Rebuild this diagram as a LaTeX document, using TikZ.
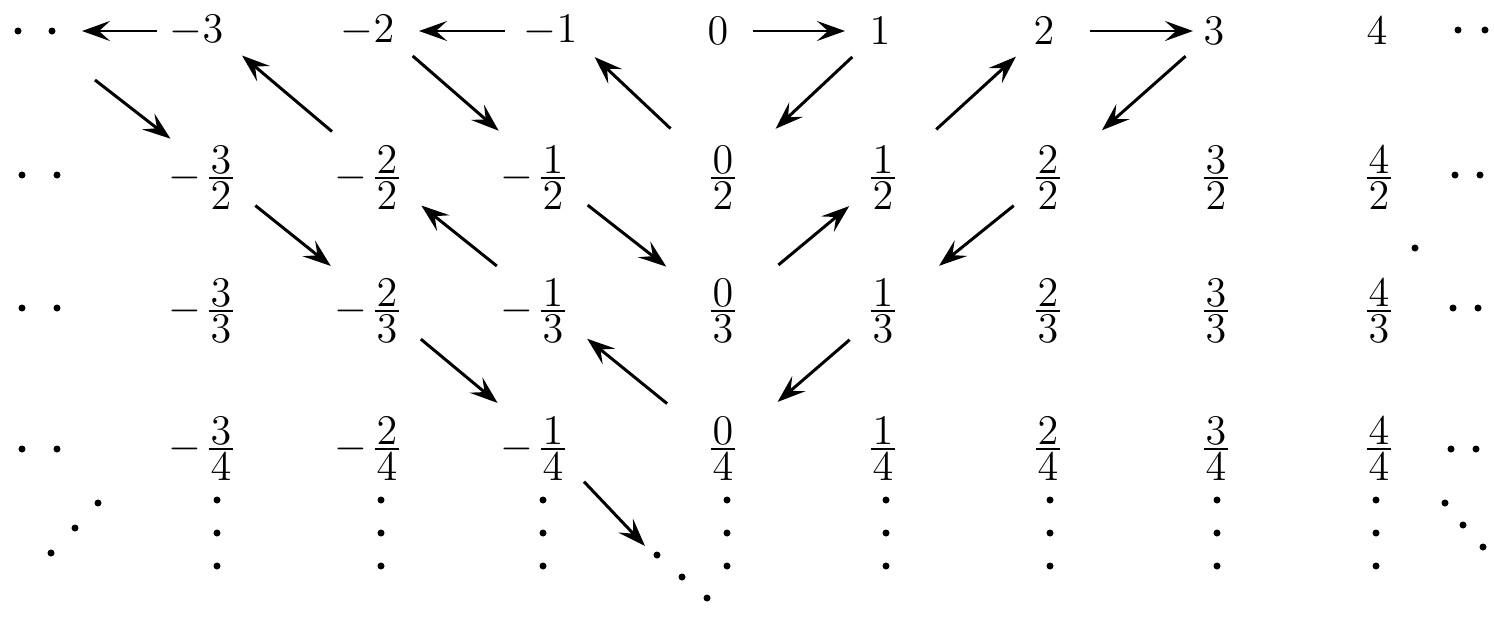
\documentclass[tikz,border=0pt]{standalone}
\usetikzlibrary{arrows.meta}
\newcommand\fr[2]{\ensuremath{\vcenter{\hbox{\kern0.6pt$#1$\kern0.6pt}\kern1.1pt\hrule\kern1.1pt\hbox{\kern0.6pt$#2$\kern0.6pt}}}}
\tikzset{
  every picture/.style={line width=0.85pt},
  num/.style={inner sep=1pt, font=\large},
  arr/.style={-{Stealth[length=2.8mm, width=2mm, inset=1.1mm]}},
  downarr/.style={arr, shorten <=0.44cm, shorten >=0.72cm},
  uparr/.style={arr, shorten <=0.72cm, shorten >=0.44cm},
  sidearr/.style={arr, line width=0.7pt, shorten <=0.35cm, shorten >=0.35cm},
  spot/.style={radius=0.035cm},
}
\begin{document}
\begin{tikzpicture}[x=0.01cm, y=-0.01cm]
  \useasboundingbox (0,0) rectangle (1494,627);

  % whole numbers
  \foreach \k/\x in {-3/213,-2/384,-1/567,0/718,1/880,2/1044,3/1214,4/1377} {
    \pgfmathtruncatemacro\a{abs(\k)}
    \node[num] (n\k) at (\x,31) {\ifnum\k<0 \llap{$-$}\fi$\a$};
  }
  % fractions k/d
  \foreach \d/\y in {2/178,3/311,4/449}
    \foreach \k/\x in {-3/221,-2/387,-1/553,0/723,1/883,2/1048,3/1216,4/1379} {
      \pgfmathtruncatemacro\a{abs(\k)}
      \node[num] (r\k-\d) at (\x,\y) {\ifnum\k<0 \llap{$-$\kern2pt}\fi\fr{\a}{\d}};
    }

  % dots
  \foreach \p in {(18,31),(52,31),(22,175),(57,175),(22,308),(57,308),(22,449),(57,449),
                  (98,503),(75,528),(51,553),
                  (1458,30),(1485,30),(1455,175),(1480,175),(1453,308),(1478,308),(1451,449),(1476,449),
                  (1445,503),(1463,525),(1483,547),(1415,248),
                  (657,555),(682,577),(707,598)}
    \fill[spot] \p circle;
  \foreach \x in {217,381,543,727,886,1050,1217,1376}
    \foreach \y in {500,533,566}
      \fill[spot] (\x,\y) circle;

  % free ends
  \coordinate (w1) at (82,31);
  \coordinate (w2) at (95,80);
  \coordinate (s) at (645,546);

  % top row
  \draw[sidearr, shorten <=0.56cm, shorten >=0cm] (n-3.center) -- (w1);
  \draw[sidearr, shorten <=0.62cm] (n-1.center) -- (n-2.center);
  \draw[sidearr] (n0.center) -- (n1.center);
  \draw[sidearr, shorten <=0.46cm, shorten >=0.21cm] (n2.center) -- (n3.center);
  % top row and halves
  \draw[arr, shorten >=0.64cm] (w2) -- (r-3-2.center);
  \draw[uparr, shorten >=0.38cm] (r-2-2.center) -- (n-3.center);
  \draw[downarr, shorten <=0.38cm] (n-2.center) -- (r-1-2.center);
  \draw[uparr, shorten >=0.38cm] (r0-2.center) -- (n-1.center);
  \draw[downarr, shorten <=0.38cm] (n1.center) -- (r0-2.center);
  \draw[uparr, shorten >=0.38cm] (r1-2.center) -- (n2.center);
  \draw[downarr, shorten <=0.38cm] (n3.center) -- (r2-2.center);
  % halves and thirds
  \draw[downarr] (r-3-2.center) -- (r-2-3.center);
  \draw[uparr] (r-1-3.center) -- (r-2-2.center);
  \draw[downarr] (r-1-2.center) -- (r0-3.center);
  \draw[uparr] (r0-3.center) -- (r1-2.center);
  \draw[downarr] (r2-2.center) -- (r1-3.center);
  % thirds and quarters
  \draw[downarr] (r-2-3.center) -- (r-1-4.center);
  \draw[uparr] (r0-4.center) -- (r-1-3.center);
  \draw[downarr] (r1-3.center) -- (r0-4.center);
  \draw[arr, shorten <=0.45cm] (r-1-4.center) -- (s);
\end{tikzpicture}
\end{document}
